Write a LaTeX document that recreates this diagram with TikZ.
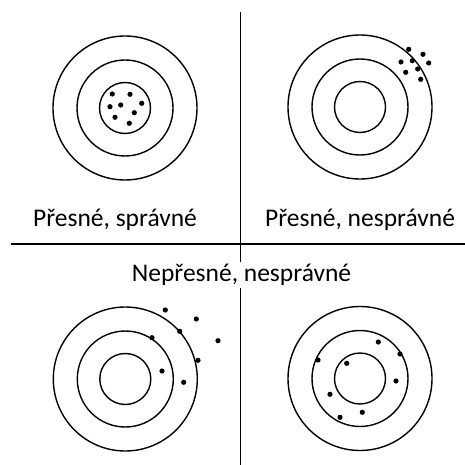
\documentclass[tikz,border=0pt]{standalone}
\usepackage{fontspec}
\setmainfont{Carlito}
\begin{document}
\begin{tikzpicture}[x=1pt,y=-1pt,line width=1.4pt]
\useasboundingbox (0,0) rectangle (465,465);
\tikzset{label/.style={font=\fontsize{25.5}{30}\selectfont,inner sep=2pt}}
\draw (240.5,12) -- (240.5,465);
\draw (11,244) -- (465,244);

\draw (125,108) circle (72);
\draw (125,108) circle (48);
\draw (125,108) circle (25.5);
\fill (112.3,94) circle (2.6) (130,94.3) circle (2.6) (141.7,103.3) circle (2.6)
  (110,106.7) circle (2.6) (120.7,105) circle (2.6) (134.3,112.7) circle (2.6)
  (115,117.3) circle (2.6) (129.3,123.3) circle (2.6);
\node[label] (ps) at (115,220) {Přesné, správné};

\draw (360,107) circle (72);
\draw (360,107) circle (48);
\draw (360,107) circle (25.5);
\fill (408.7,49.3) circle (2.6) (423,54.3) circle (2.6) (401,62) circle (2.6)
  (412.3,60.7) circle (2.6) (428.7,63) circle (2.6) (417.7,69) circle (2.6)
  (405.7,72.3) circle (2.6) (420.7,79.3) circle (2.6);
\node[label] (pn) at (360,220) {Přesné, nesprávné};

\node[label,fill=white] (nn) at (241.5,275) {Nepřesné, nesprávné};

\draw (125.3,379) circle (72);
\draw (125.3,379) circle (48);
\draw (125.3,379) circle (25.5);
\fill (165.3,310) circle (2.6) (196.3,319) circle (2.6) (179.7,331.3) circle (2.6)
  (152,337.7) circle (2.6) (218,340.7) circle (2.6) (198,360.3) circle (2.6)
  (162,371) circle (2.6) (183.7,382.3) circle (2.6);

\draw (360,378.5) circle (72);
\draw (360,378.5) circle (48);
\draw (360,378.5) circle (25.5);
\fill (378.3,342) circle (2.6) (400,354) circle (2.6) (318,360) circle (2.6)
  (346.7,363.3) circle (2.6) (396,381) circle (2.6) (330,394.3) circle (2.6)
  (362.3,412.3) circle (2.6) (340,417.3) circle (2.6);
\end{tikzpicture}
\end{document}
